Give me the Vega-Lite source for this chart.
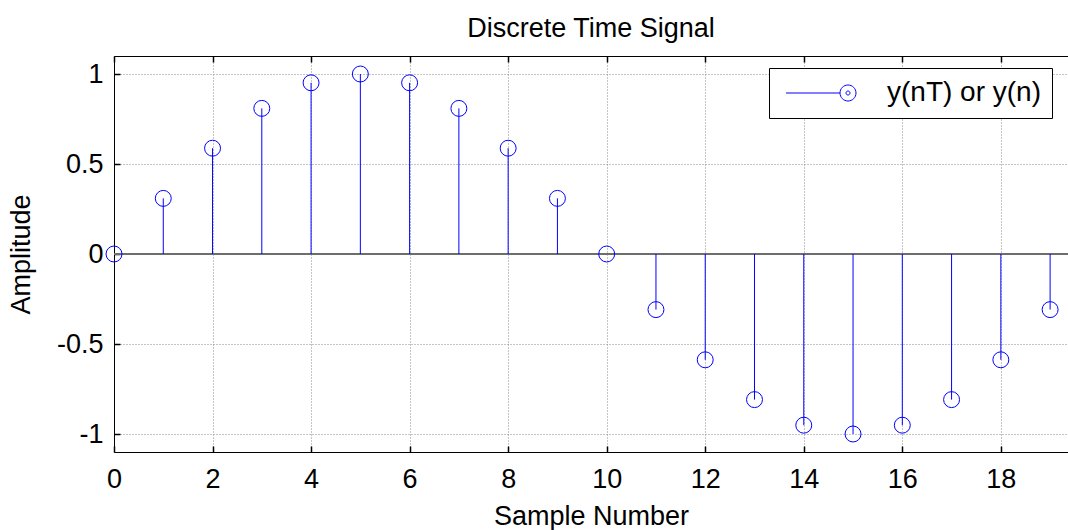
{
  "$schema": "https://vega.github.io/schema/vega-lite/v6.json",
  "autosize": {"type": "none"},
  "padding": {"left": 114, "top": 56, "right": 0, "bottom": 78},
  "width": 954,
  "height": 396,
  "background": "white",
  "title": {"text": "Discrete Time Signal", "fontSize": 27, "fontWeight": "normal", "font": "Liberation Sans", "color": "black", "baseline": "alphabetic", "offset": -9, "frame": "group", "anchor": "middle"},
  "data": {"values": [
    {"n": 0, "v": 0, "series": "y(nT) or y(n)"},
    {"n": 1, "v": 0.309, "series": "y(nT) or y(n)"},
    {"n": 2, "v": 0.5878, "series": "y(nT) or y(n)"},
    {"n": 3, "v": 0.809, "series": "y(nT) or y(n)"},
    {"n": 4, "v": 0.9511, "series": "y(nT) or y(n)"},
    {"n": 5, "v": 1, "series": "y(nT) or y(n)"},
    {"n": 6, "v": 0.9511, "series": "y(nT) or y(n)"},
    {"n": 7, "v": 0.809, "series": "y(nT) or y(n)"},
    {"n": 8, "v": 0.5878, "series": "y(nT) or y(n)"},
    {"n": 9, "v": 0.309, "series": "y(nT) or y(n)"},
    {"n": 10, "v": 0, "series": "y(nT) or y(n)"},
    {"n": 11, "v": -0.309, "series": "y(nT) or y(n)"},
    {"n": 12, "v": -0.5878, "series": "y(nT) or y(n)"},
    {"n": 13, "v": -0.809, "series": "y(nT) or y(n)"},
    {"n": 14, "v": -0.9511, "series": "y(nT) or y(n)"},
    {"n": 15, "v": -1, "series": "y(nT) or y(n)"},
    {"n": 16, "v": -0.9511, "series": "y(nT) or y(n)"},
    {"n": 17, "v": -0.809, "series": "y(nT) or y(n)"},
    {"n": 18, "v": -0.5878, "series": "y(nT) or y(n)"},
    {"n": 19, "v": -0.309, "series": "y(nT) or y(n)"}
  ]},
  "resolve": {"axis": {"x": "independent"}},
  "layer": [
    {
      "mark": {"type": "rule", "color": "#6e6e6e", "strokeWidth": 1.5},
      "encoding": {
        "y": {"datum": 0, "type": "quantitative", "scale": {"domain": [-1.1, 1.1], "nice": false, "zero": false}}
      }
    },
    {
      "mark": {"type": "rule", "color": "#0000ff", "strokeWidth": 1},
      "encoding": {
        "x": {"field": "n", "type": "quantitative", "scale": {"domain": [0, 19.363], "nice": false, "zero": false},
          "axis": {"orient": "bottom", "values": [0, 2, 4, 6, 8, 10, 12, 14, 16, 18], "grid": true, "tickSize": -6, "labelPadding": 41, "labelFlush": false, "labelBaseline": "alphabetic", "title": "Sample Number", "titleY": 72, "titleBaseline": "alphabetic"}},
        "y": {"field": "v", "type": "quantitative", "scale": {"domain": [-1.1, 1.1], "nice": false, "zero": false},
          "axis": {"orient": "left", "values": [-1, -0.5, 0, 0.5, 1], "grid": true, "tickSize": -6, "labelPadding": 17, "labelFlush": false, "labelExpr": "'' + datum.value", "title": "Amplitude", "titleX": -85, "titleBaseline": "alphabetic"}},
        "y2": {"datum": 0}
      }
    },
    {
      "mark": {"type": "point", "filled": false, "size": 254, "strokeWidth": 1, "opacity": 1},
      "encoding": {
        "x": {"field": "n", "type": "quantitative", "axis": {"orient": "top", "values": [0, 2, 4, 6, 8, 10, 12, 14, 16, 18], "labels": false, "grid": false, "tickSize": -6, "title": null, "domain": true}},
        "y": {"field": "v", "type": "quantitative"},
        "color": {"field": "series", "type": "nominal", "scale": {"range": ["#0000ff"]},
          "legend": {"orient": "none", "legendX": 655, "legendY": 12, "padding": 11, "strokeColor": "black", "fillColor": "white", "title": null,
            "symbolType": "M-1,0L5.75,0M7.75,0A1,1,0,1,1,5.75,0A1,1,0,1,1,7.75,0M7,0A0.25,0.25,0,1,1,6.5,0A0.25,0.25,0,1,1,7,0",
            "symbolSize": 256, "symbolStrokeWidth": 1, "labelFontSize": 28, "labelFont": "Liberation Sans", "labelColor": "black", "labelOffset": 79}}
      }
    }
  ],
  "config": {
    "view": {"stroke": null},
    "axis": {"domainColor": "black", "domainWidth": 1, "tickColor": "black", "tickWidth": 1.5, "labelColor": "black", "labelFont": "Liberation Sans", "labelFontSize": 27, "titleFont": "Liberation Sans", "titleFontSize": 27, "titleFontWeight": "normal", "titleColor": "black", "gridColor": "#8a8a8a", "gridDash": [1, 2], "gridWidth": 1, "gridOpacity": 1}
  }
}
